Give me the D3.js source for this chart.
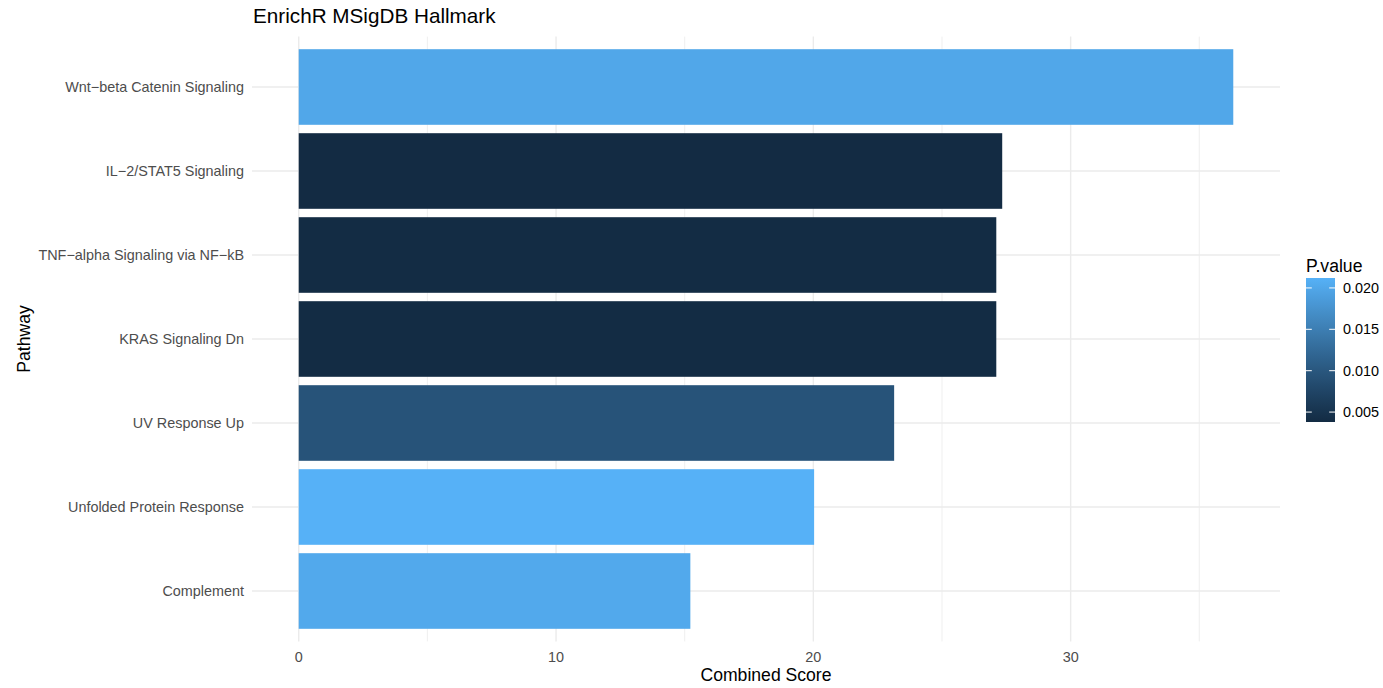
<!DOCTYPE html>
<html><head><meta charset="utf-8">
<script src="https://cdn.jsdelivr.net/npm/d3@7"></script>
<style>body{margin:0;background:#fff;} text{font-family:"Liberation Sans",Arial,Helvetica,sans-serif;}</style>
</head><body>
<svg id="c" width="1383" height="688"></svg>
<script>
const pathways = ["Wnt\u2212beta Catenin Signaling","IL\u22122/STAT5 Signaling","TNF\u2212alpha Signaling via NF\u2212kB","KRAS Signaling Dn","UV Response Up","Unfolded Protein Response","Complement"];
const scores = [36.32, 27.34, 27.11, 27.11, 23.14, 20.03, 15.22];
const pvalues = [0.0200, 0.0038, 0.0039, 0.0039, 0.0095, 0.0212, 0.0202];
const xTicks = [0, 10, 20, 30];
const xMinor = [5, 15, 25, 35];
const legendTicks = [0.005, 0.010, 0.015, 0.020];

const svg = d3.select("#c");
const panel = {l: 252, r: 1280, t: 36.6, b: 641.4};
const maxS = d3.max(scores);
const x = d3.scaleLinear().domain([-0.05*maxS, 1.05*maxS]).range([panel.l, panel.r]);
const y = d3.scaleBand().domain(pathways).range([panel.t, panel.b]).paddingInner(0).paddingOuter(0.1);
const barH = 0.9 * y.bandwidth();
const pExt = d3.extent(pvalues);
const col = d3.scaleLinear().domain(pExt).range(["#132B43","#56B1F7"]).interpolate(d3.interpolateLab);
const cy = d => y(d) + y.bandwidth()/2;

const g = svg.append("g");
g.selectAll("line.minor").data(xMinor).join("line")
  .attr("x1", d=>x(d)).attr("x2", d=>x(d)).attr("y1", panel.t).attr("y2", panel.b)
  .attr("stroke", "#EBEBEB").attr("stroke-width", 0.8);
g.selectAll("line.majx").data(xTicks).join("line")
  .attr("x1", d=>x(d)).attr("x2", d=>x(d)).attr("y1", panel.t).attr("y2", panel.b)
  .attr("stroke", "#EBEBEB").attr("stroke-width", 1.4);
g.selectAll("line.majy").data(pathways).join("line")
  .attr("x1", panel.l).attr("x2", panel.r).attr("y1", cy).attr("y2", cy)
  .attr("stroke", "#EBEBEB").attr("stroke-width", 1.4);

g.selectAll("rect.bar").data(pathways).join("rect")
  .attr("x", x(0)).attr("y", d=>cy(d) - barH/2)
  .attr("width", (d,i)=>x(scores[i]) - x(0)).attr("height", barH)
  .attr("fill", (d,i)=>col(pvalues[i]));

g.selectAll("text.yl").data(pathways).join("text")
  .attr("x", 244).attr("y", cy).attr("dy", "0.35em")
  .attr("text-anchor", "end").attr("font-size", 14.4).attr("fill", "#4D4D4D").text(d=>d);
g.selectAll("text.xl").data(xTicks).join("text")
  .attr("x", d=>x(d)).attr("y", 657).attr("dy", "0.35em")
  .attr("text-anchor", "middle").attr("font-size", 14.4).attr("fill", "#4D4D4D").text(d=>d);

svg.append("text").attr("x", (panel.l+panel.r)/2).attr("y", 681).attr("text-anchor", "middle")
  .attr("font-size", 17.6).attr("fill", "#000").text("Combined Score");
svg.append("text").attr("transform", "translate(30,339) rotate(-90)").attr("text-anchor", "middle")
  .attr("font-size", 17.6).attr("fill", "#000").text("Pathway");
svg.append("text").attr("x", 253).attr("y", 23).attr("font-size", 20.7).attr("fill", "#000").text("EnrichR MSigDB Hallmark");

const lg = {x: 1306, w: 29, t: 278, b: 422};
const ly = d3.scaleLinear().domain(pExt).range([lg.b, lg.t]);
const defs = svg.append("defs");
const grad = defs.append("linearGradient").attr("id", "pg").attr("x1", 0).attr("y1", 1).attr("x2", 0).attr("y2", 0);
d3.range(0, 1.0001, 0.05).forEach(t => {
  grad.append("stop").attr("offset", t).attr("stop-color", col(pExt[0] + t*(pExt[1]-pExt[0])));
});
svg.append("rect").attr("x", lg.x).attr("y", lg.t).attr("width", lg.w).attr("height", lg.b-lg.t).attr("fill", "url(#pg)");
const lt = svg.append("g");
legendTicks.forEach(v => {
  const yy = ly(v);
  lt.append("line").attr("x1", lg.x).attr("x2", lg.x+5.8).attr("y1", yy).attr("y2", yy).attr("stroke", "#fff").attr("stroke-width", 1);
  lt.append("line").attr("x1", lg.x+lg.w-5.8).attr("x2", lg.x+lg.w).attr("y1", yy).attr("y2", yy).attr("stroke", "#fff").attr("stroke-width", 1);
  lt.append("text").attr("x", lg.x+lg.w+8).attr("y", yy).attr("dy", "0.35em").attr("font-size", 14.4).attr("fill", "#000").text(d3.format(".3f")(v));
});
svg.append("text").attr("x", 1306).attr("y", 272).attr("font-size", 17.6).attr("fill", "#000").text("P.value");
</script>
</body></html>
